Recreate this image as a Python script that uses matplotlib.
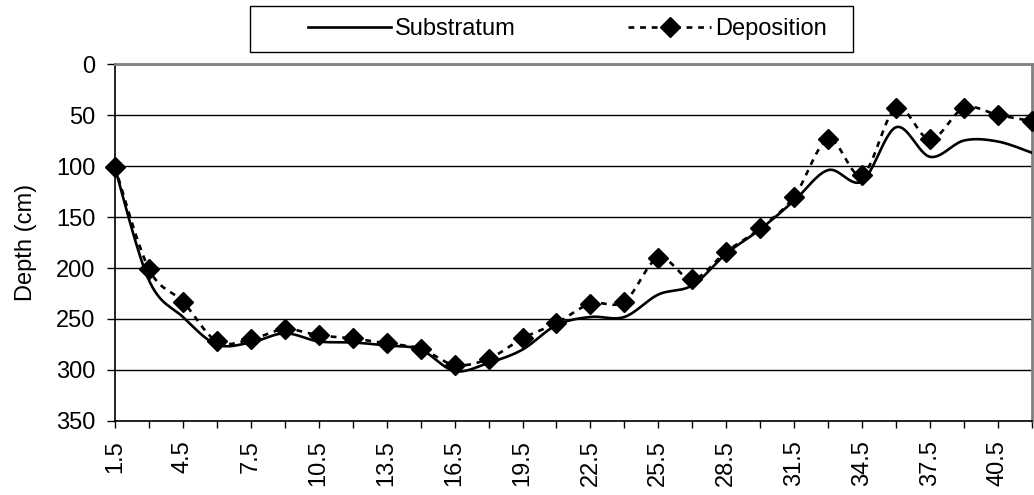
import matplotlib
matplotlib.use("Agg")
import matplotlib.pyplot as plt
from matplotlib.patches import Rectangle
import numpy as np

plt.rcParams['font.family'] = ['Liberation Sans', 'DejaVu Sans']

# distance along the section (category axis)
dist = [1.5, 3, 4.5, 6, 7.5, 9, 10.5, 12, 13.5, 15, 16.5, 18, 19.5, 21,
        22.5, 24, 25.5, 27, 28.5, 30, 31.5, 33, 34.5, 36, 37.5, 39, 40.5, 42]
substratum = [102, 212, 248, 275, 273, 264, 272, 273, 276, 280, 301, 293, 280, 256,
              248, 248, 226, 217, 186, 162, 134, 104, 115, 62, 91, 75, 76, 87]
deposition = [101, 201, 233, 272, 270, 260, 266, 269, 274, 279, 295, 289, 269, 254,
              235, 233, 190, 211, 184, 161, 130, 74, 109, 43, 74, 43, 50, 56]
ylabel = 'Depth (cm)'


# Excel-like smoothing (bezier through the points)
def smooth(x, y, n=30):
    x = np.asarray(x, float)
    y = np.asarray(y, float)
    px = np.concatenate([[x[0]], x, [x[-1]]])
    py = np.concatenate([[y[0]], y, [y[-1]]])
    xs, ys = [], []
    t = np.linspace(0, 1, n)
    for i in range(1, len(px) - 2):
        p0, p1, p2, p3 = px[i-1], px[i], px[i+1], px[i+2]
        q0, q1, q2, q3 = py[i-1], py[i], py[i+1], py[i+2]
        c1x, c1y = p1 + (p2 - p0) / 6, q1 + (q2 - q0) / 6
        c2x, c2y = p2 - (p3 - p1) / 6, q2 - (q3 - q1) / 6
        bx = (1-t)**3*p1 + 3*(1-t)**2*t*c1x + 3*(1-t)*t**2*c2x + t**3*p2
        by = (1-t)**3*q1 + 3*(1-t)**2*t*c1y + 3*(1-t)*t**2*c2y + t**3*q2
        xs.append(bx)
        ys.append(by)
    return np.concatenate(xs), np.concatenate(ys)


fig = plt.figure(figsize=(10.34, 4.95), dpi=100)
ax = fig.add_axes([0.1112, 0.1495, 0.8868, 0.7212])

sx, sy = smooth(dist, substratum)
ax.plot(sx, sy, color='black', lw=1.9, label='Substratum', zorder=3)
dx, dy = smooth(dist, deposition)
ax.plot(dx, dy, color='black', lw=1.9, dashes=(2.2, 2.2), zorder=3)
ax.plot(dist, deposition, ls='none', marker='D', ms=10, color='black', zorder=4,
        clip_on=False)
# legend proxy for deposition
ax.plot([], [], color='black', lw=1.9, dashes=(2.2, 2.2), marker='D', ms=10,
        label='Deposition')

ax.set_xlim(1.5, 42)
ax.set_ylim(350, 0)
ax.set_yticks(np.arange(0, 351, 50))
ax.set_xticks(dist)
ax.set_xticklabels([('%g' % d) if i % 2 == 0 else '' for i, d in enumerate(dist)],
                   rotation=90)
ax.tick_params(axis='both', labelsize=17, direction='out', width=1, color='black')
ax.tick_params(axis='y', length=6, pad=8)
ax.tick_params(axis='x', length=5, pad=9)
ax.grid(axis='y', color='black', lw=1)
ax.set_axisbelow(True)
ax.set_ylabel(ylabel, fontsize=17, labelpad=14)

for s in ['top', 'right']:
    ax.spines[s].set_color('#808080')
    ax.spines[s].set_linewidth(2)
for s in ['left', 'bottom']:
    ax.spines[s].set_color('black')
    ax.spines[s].set_linewidth(1.2)

# legend box drawn separately (wider than its entries)
fig.patches.append(Rectangle((0.2418, 0.895), 0.583, 0.093, transform=fig.transFigure,
                             facecolor='white', edgecolor='black', lw=1))
leg = fig.legend(loc='center', bbox_to_anchor=(0.549, 0.941), ncol=2,
                 fontsize=17, frameon=False, handlelength=3.5,
                 columnspacing=4.75, handletextpad=0.2)

fig.savefig('out.png', dpi=100)
